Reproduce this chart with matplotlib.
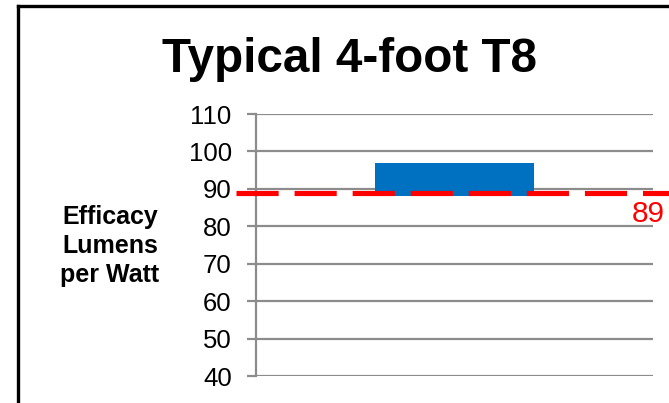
import matplotlib
matplotlib.use("Agg")
import matplotlib.pyplot as plt
from matplotlib.lines import Line2D

plt.rcParams['font.family'] = ['Liberation Sans', 'DejaVu Sans']

# Data
title = "Typical 4-foot T8"
ylabel = "Efficacy\nLumens\nper Watt"
categories = ["T8"]
range_low = [88]
range_high = [97]
reference_value = 89
y_ticks = [40, 50, 60, 70, 80, 90, 100, 110]

W, H = 669, 403
fig = plt.figure(figsize=(W / 100, H / 100), dpi=100)
fig.patch.set_facecolor("white")

ax = fig.add_axes([256 / W, 1 - 376 / H, (653 - 256) / W, (376 - 114) / H])
ax.set_xlim(-0.5, 0.5)
ax.set_ylim(y_ticks[0], y_ticks[-1])

grid_col = "#8c8c8c"
ax.set_yticks(y_ticks)
ax.yaxis.grid(True, color=grid_col, linewidth=1.6)
ax.set_axisbelow(True)
for side in ("top", "right", "bottom"):
    ax.spines[side].set_visible(False)
ax.spines["left"].set_color(grid_col)
ax.spines["left"].set_linewidth(1.6)
ax.tick_params(axis="y", length=6.5, width=1.6, color=grid_col, pad=11,
               labelsize=18.5, labelcolor="black")
ax.tick_params(axis="x", length=0, labelbottom=False)

# Floating bar spanning the efficacy range
heights = [h - l for l, h in zip(range_low, range_high)]
ax.bar(range(len(categories)), heights, bottom=range_low, width=0.4,
       color="#0070C0", zorder=2)

# Reference line with its value
ref_line, = ax.plot([-0.05, 1.1], [reference_value] * 2, color="#FF0000",
                    linewidth=3.7, clip_on=False, zorder=3,
                    transform=ax.get_yaxis_transform())
ref_line.set_dashes([8.2, 3.1])
ref_line.set_dash_capstyle("butt")
ax.annotate(str(reference_value), xy=(1.03, reference_value),
            xycoords=("axes fraction", "data"), xytext=(0, -21),
            textcoords="offset points", ha="right", va="baseline",
            fontsize=21.5, color="#FF0000", annotation_clip=False)

fig.text(349.5 / W, 1 - 72 / H, title, ha="center", va="baseline",
         fontsize=34.3, fontweight="bold")
fig.text(110 / W, 1 - 246 / H, ylabel, ha="center", va="center",
         multialignment="center", fontsize=18, fontweight="bold",
         linespacing=1.28)

# Frame around the chart area
for xs, ys in (([18 / W, 18 / W], [1 - 6 / H, 0]),
               ([18 / W, 1], [1 - 6 / H, 1 - 6 / H])):
    fig.add_artist(Line2D(xs, ys, transform=fig.transFigure, color="black",
                          linewidth=2.4, solid_capstyle="projecting"))

fig.savefig("out.png", dpi=100)
